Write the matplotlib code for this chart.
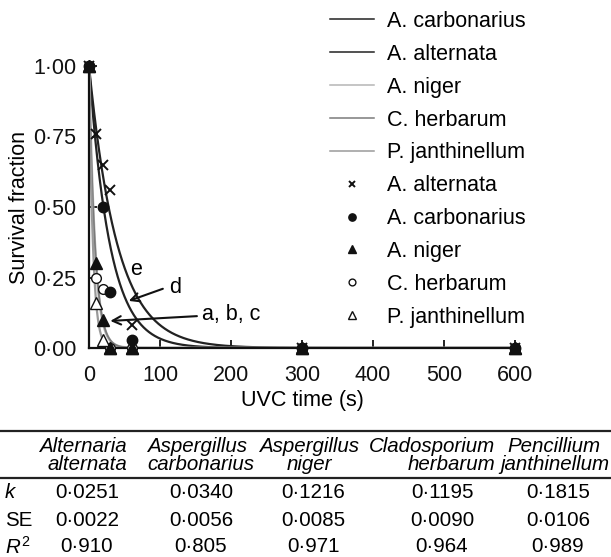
import matplotlib
matplotlib.use("Agg")
import matplotlib.pyplot as plt
import numpy as np
from matplotlib.lines import Line2D

plt.rcParams["font.family"] = ["Liberation Sans", "DejaVu Sans"]
plt.rcParams["mathtext.fontset"] = "custom"
plt.rcParams["mathtext.it"] = "Liberation Sans:italic"
plt.rcParams["mathtext.rm"] = "Liberation Sans"

# observed survival fractions
t_alt = [0, 10, 20, 30, 60, 300, 600]
y_alt = [1.0, 0.76, 0.65, 0.56, 0.08, 0.0, 0.0]
t_carb = [0, 20, 30, 60, 300, 600]
y_carb = [1.0, 0.50, 0.20, 0.03, 0.0, 0.0]
t_nig = [0, 10, 20, 30, 60, 300, 600]
y_nig = [1.0, 0.30, 0.10, 0.0, 0.0, 0.0, 0.0]
t_herb = [0, 10, 20, 30, 60, 300, 600]
y_herb = [1.0, 0.25, 0.21, 0.0, 0.0, 0.0, 0.0]
t_jan = [0, 10, 20, 30, 60, 300, 600]
y_jan = [1.0, 0.16, 0.03, 0.0, 0.0, 0.0, 0.0]

# table values (fitted first-order constants)
col_top = ["Alternaria", "Aspergillus", "Aspergillus", "Cladosporium", "Pencillium"]
col_bot = ["alternata", "carbonarius", "niger", "herbarum", "janthinellum"]
k_vals = [0.0251, 0.0340, 0.1216, 0.1195, 0.1815]
se_vals = [0.0022, 0.0056, 0.0085, 0.0090, 0.0106]
r2_vals = [0.910, 0.805, 0.971, 0.964, 0.989]

W, H = 611, 557
fig = plt.figure(figsize=(W / 100, H / 100), dpi=100)

def fx(px):
    return px / W

def fy(py):
    return 1 - py / H

ax = fig.add_axes([fx(89), fy(348), fx(515) - fx(89), fy(66) - fy(348)])

# fitted curves y = exp(-k t)
tt = np.linspace(0, 600, 3000)
ax.plot(tt, np.exp(-k_vals[1] * tt), color="#222222", lw=1.6, label="A. carbonarius")
ax.plot(tt, np.exp(-k_vals[0] * tt), color="#222222", lw=1.6, label="A. alternata")
ax.plot(tt, np.exp(-k_vals[2] * tt), color="#b5b5b5", lw=2.0, label="A. niger")
ax.plot(tt, np.exp(-k_vals[3] * tt), color="#7a7a7a", lw=1.2, label="C. herbarum")
ax.plot(tt, np.exp(-k_vals[4] * tt), color="#9a9a9a", lw=1.6, label="P. janthinellum")

# observed points
ax.plot(t_alt, y_alt, ls="none", marker="x", ms=7, mew=1.4, color="#111111",
        clip_on=False, label="A. alternata", zorder=5)
ax.plot(t_carb, y_carb, ls="none", marker="o", ms=7.5, color="#111111",
        clip_on=False, label="A. carbonarius", zorder=5)
ax.plot(t_herb, y_herb, ls="none", marker="o", ms=7, mfc="white", mec="#111111",
        mew=1.0, clip_on=False, label="C. herbarum", zorder=4)
ax.plot(t_jan, y_jan, ls="none", marker="^", ms=9, mfc="white", mec="#111111",
        mew=1.0, clip_on=False, label="P. janthinellum", zorder=4)
ax.plot(t_nig, y_nig, ls="none", marker="^", ms=9, color="#111111",
        clip_on=False, label="A. niger", zorder=6)

ax.set_xlim(0, 600)
ax.set_ylim(0, 1)
ax.set_xticks([0, 100, 200, 300, 400, 500, 600])
ax.set_yticks([0, 0.25, 0.5, 0.75, 1.0])
ax.set_yticklabels([f"{v:.2f}".replace(".", "\u00b7") for v in [0, 0.25, 0.5, 0.75, 1.0]])
ax.tick_params(direction="in", length=6, width=1.3, labelsize=15.5, pad=9, colors="#111111")
ax.tick_params(axis="x", pad=12)
for s in ["top", "right"]:
    ax.spines[s].set_visible(False)
for s in ["left", "bottom"]:
    ax.spines[s].set_linewidth(1.6)
    ax.spines[s].set_color("#111111")
ax.set_xlabel("UVC time (s)", fontsize=15.5, labelpad=3)
ax.set_ylabel("Survival fraction", fontsize=15.5, labelpad=2)

# curve labels
ax.text(66, 0.277, "e", fontsize=15.5, ha="center", va="center")
ax.text(121, 0.213, "d", fontsize=15.5, ha="center", va="center")
ax.text(159, 0.12, "a, b, c", fontsize=15.5, ha="left", va="center")
arr = dict(arrowstyle="->, head_length=0.6, head_width=0.3", lw=1.5, color="#111111",
           shrinkA=0, shrinkB=0)
ax.annotate("", xy=(56, 0.167), xytext=(104, 0.21), arrowprops=arr)
ax.annotate("", xy=(30, 0.096), xytext=(152, 0.113), arrowprops=arr)

handles, labels = ax.get_legend_handles_labels()
order = [0, 1, 2, 3, 4, 5, 6, 9, 7, 8]
leg = ax.legend([handles[i] for i in order], [labels[i] for i in order],
                loc="upper left", bbox_to_anchor=(fx(330), fy(11)),
                bbox_transform=fig.transFigure, frameon=False, fontsize=15.5,
                handlelength=2.05, handletextpad=0.6, labelspacing=0.55,
                borderpad=0, borderaxespad=0, markerscale=0.7)
for h in leg.get_lines()[:5]:
    h.set_linewidth(1.1)

# table below the chart
fig.add_artist(Line2D([0, 1], [fy(431), fy(431)], lw=1.6, color="#222222",
                      transform=fig.transFigure))
fig.add_artist(Line2D([0, 1], [fy(478), fy(478)], lw=1.6, color="#222222",
                      transform=fig.transFigure))

col_x = [87, 201, 313, 442, 558]
head_x = [127, 147, 309, 495, 507]
head_ha = ["right", "left", "center", "right", "left"]
tfs = 14.8
for i in range(5):
    fig.text(fx(head_x[i]), fy(446), col_top[i], style="italic", fontsize=tfs,
             ha=head_ha[i], va="center")
    if i == 4:
        fig.text(fx(609), fy(464), col_bot[i], style="italic", fontsize=tfs,
                 ha="right", va="center")
    else:
        fig.text(fx(head_x[i]), fy(464), col_bot[i], style="italic", fontsize=tfs,
                 ha=head_ha[i], va="center")
    fig.text(fx(col_x[i]), fy(492), f"{k_vals[i]:.4f}".replace(".", "\u00b7"),
             fontsize=tfs, ha="center", va="center")
    fig.text(fx(col_x[i]), fy(520), f"{se_vals[i]:.4f}".replace(".", "\u00b7"),
             fontsize=tfs, ha="center", va="center")
    fig.text(fx(col_x[i]), fy(547), f"{r2_vals[i]:.3f}".replace(".", "\u00b7"),
             fontsize=tfs, ha="center", va="center")

fig.text(fx(5), fy(492), "k", style="italic", fontsize=tfs, ha="left", va="center")
fig.text(fx(5), fy(520), "SE", fontsize=tfs, ha="left", va="center")
fig.text(fx(5), fy(547), r"$R^2$", fontsize=tfs, ha="left", va="center")

fig.savefig("out.png", dpi=100)
